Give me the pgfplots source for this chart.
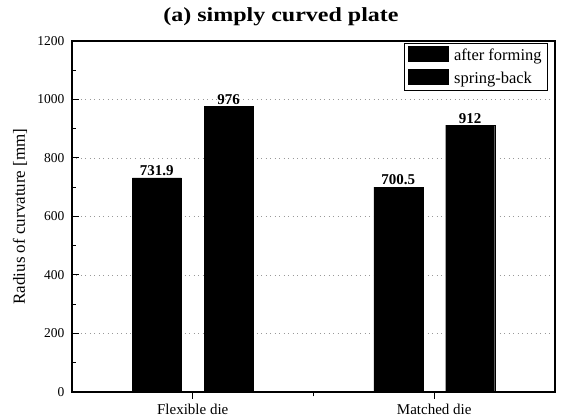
\documentclass[border=0pt]{standalone}
\usepackage{graphicx}
\usepackage{pgfplots}
\pgfplotsset{compat=1.18}
\usepackage{fontspec}
\setmainfont{Liberation Serif}
\begin{document}
\begin{tikzpicture}
\begin{axis}[
  scale only axis,
  width=483pt, height=351pt,
  xmin=0.5, xmax=2.5,
  ymin=0, ymax=1200,
  xtick={1,2},
  xticklabels={Flexible die, Matched die},
  minor xtick={1.5},
  ytick={0,200,...,1200},
  minor y tick num=1,
  tick align=inside,
  xtick pos=bottom, ytick pos=left,
  major tick length=7pt, minor tick length=4.5pt,
  ymajorgrids,
  major grid style={dash pattern=on 1pt off 3.5pt, gray!80, line width=0.7pt},
  axis line style={line width=1.2pt},
  every tick/.style={black, line width=1pt},
  /pgf/number format/assume math mode=true,
  /pgf/number format/1000 sep={},
  yticklabel style={font=\fontsize{13.5}{15}\selectfont, xshift=-4pt},
  xticklabel style={font=\fontsize{15}{17}\selectfont, yshift=-2pt},
  ylabel={Radius of curvature [mm]},
  every axis y label/.style={at={(axis description cs:-0.1077,0.5)}, rotate=90, anchor=center,
    font=\fontsize{17}{19}\selectfont},
  title={\scalebox{1.2}[1]{\textbf{(a) simply curved plate}}},
  every axis title/.style={at={(axis description cs:0.4327,1)}, anchor=base, yshift=19.5pt,
    font=\fontsize{20}{22}\selectfont},
  ybar,
  bar width=0.203,
  nodes near coords,
  every node near coord/.append style={font=\fontsize{15}{17}\selectfont\bfseries, yshift=-1.5pt},
  legend style={at={(axis description cs:0.9855,0.995)}, anchor=north east, draw=black, line width=0.8pt,
    font=\fontsize{16.5}{18}\selectfont, inner xsep=4pt, inner ysep=3pt, row sep=5pt, cells={anchor=west}},
  legend image code/.code={\fill[black] (0pt,-6pt) rectangle (40pt,9pt);},
]
\addplot[fill=black, draw=black, bar shift=-0.149,
  nodes near coords={\pgfmathprintnumber[fixed, fixed zerofill, precision=1]{\pgfplotspointmeta}}]
  coordinates {(1,731.9) (2,700.5)};
\addplot[fill=black, draw=black, bar shift=0.149,
  nodes near coords={\pgfmathprintnumber[fixed, precision=0]{\pgfplotspointmeta}}]
  coordinates {(1,976) (2,912)};
\legend{\hspace{3pt}after forming, \hspace{3pt}spring-back}
\end{axis}
\pgfresetboundingbox
\path ([shift={(-72pt,-25pt)}]current axis.south west) rectangle ([shift={(7pt,41pt)}]current axis.north east);
\end{tikzpicture}
\end{document}
